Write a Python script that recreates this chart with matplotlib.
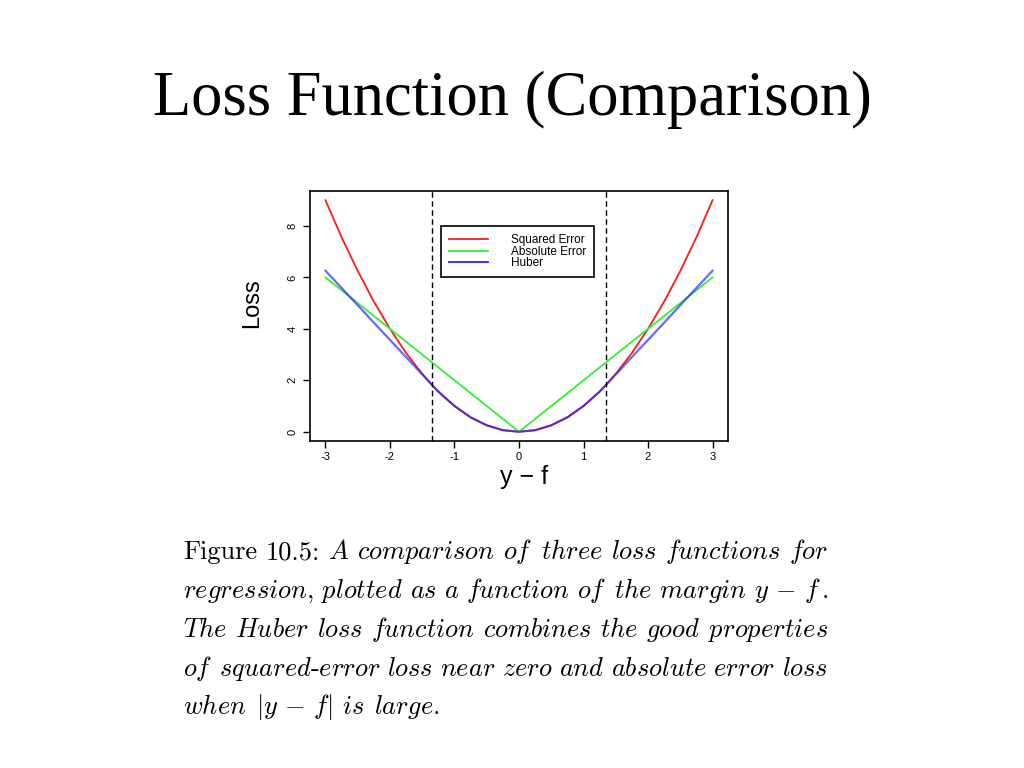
import matplotlib
matplotlib.use("Agg")
import matplotlib.pyplot as plt

# ---------------- data ----------------
margin = [-3.0, -2.75, -2.5, -2.25, -2.0, -1.75, -1.5, -1.345, -1.25, -1.0, -0.75, -0.5, -0.25, 0.0,
          0.25, 0.5, 0.75, 1.0, 1.25, 1.345, 1.5, 1.75, 2.0, 2.25, 2.5, 2.75, 3.0]
squared_error = [9.0, 7.56, 6.25, 5.06, 4.0, 3.06, 2.25, 1.81, 1.56, 1.0, 0.56, 0.25, 0.06, 0.0,
                 0.06, 0.25, 0.56, 1.0, 1.56, 1.81, 2.25, 3.06, 4.0, 5.06, 6.25, 7.56, 9.0]
absolute_error = [6.0, 5.5, 5.0, 4.5, 4.0, 3.5, 3.0, 2.69, 2.5, 2.0, 1.5, 1.0, 0.5, 0.0,
                  0.5, 1.0, 1.5, 2.0, 2.5, 2.69, 3.0, 3.5, 4.0, 4.5, 5.0, 5.5, 6.0]
huber = [6.26, 5.59, 4.92, 4.24, 3.57, 2.9, 2.23, 1.81, 1.56, 1.0, 0.56, 0.25, 0.06, 0.0,
         0.06, 0.25, 0.56, 1.0, 1.56, 1.81, 2.23, 2.9, 3.57, 4.24, 4.92, 5.59, 6.26]
cutoffs = [-1.345, 1.345]
series_labels = ["Squared Error", "Absolute Error", "Huber"]
x_ticks = [-3, -2, -1, 0, 1, 2, 3]
y_ticks = [0, 2, 4, 6, 8]

title_text = "Loss Function (Comparison)"
caption_lines = [
    [("Figure", "rm"), ("10.5:", "rm"), ("A", "it"), ("comparison", "it"), ("of", "it"), ("three", "it"),
     ("loss", "it"), ("functions", "it"), ("for", "it")],
    [("regression,", "it"), ("plotted", "it"), ("as", "it"), ("a", "it"), ("function", "it"), ("of", "it"),
     ("the", "it"), ("margin", "it"), (r"y\,-\,f\,.", "math")],
    [("The", "it"), ("Huber", "it"), ("loss", "it"), ("function", "it"), ("combines", "it"), ("the", "it"),
     ("good", "it"), ("properties", "it")],
    [("of", "it"), ("squared-error", "hy"), ("loss", "it"), ("near", "it"), ("zero", "it"), ("and", "it"),
     ("absolute", "it"), ("error", "it"), ("loss", "it")],
    [("when", "it"), (r"|y\,-\,f|", "math"), ("is", "it"), ("large.", "it")],
]

# ---------------- figure ----------------
plt.rcParams["mathtext.fontset"] = "cm"
W, H = 1024, 768
fig = plt.figure(figsize=(W / 100, H / 100), dpi=100)
fig.patch.set_facecolor("white")

fig.text(512 / W, 1 - 115 / H, title_text, ha="center", va="baseline",
         family="Liberation Serif", fontsize=45)

ax = fig.add_axes([310 / W, 1 - 441 / H, 418 / W, 250 / H])
sans = "Liberation Sans"
ax.plot(margin, squared_error, color="#FF1A1A", lw=1.3, label=series_labels[0])
ax.plot(margin, absolute_error, color="#33F033", lw=1.3, label=series_labels[1])
ax.plot(margin, huber, color="#2424FF", lw=1.6, alpha=0.68, label=series_labels[2])
for c in cutoffs:
    ax.axvline(c, color="black", lw=1.0, ls=(0, (4, 2.5)))

ax.set_xlim(-3.24, 3.24)
ax.set_ylim(-0.36, 9.36)
ax.set_xticks(x_ticks)
ax.set_yticks(y_ticks)
ax.set_xticklabels([str(t) for t in x_ticks], family=sans, fontsize=8)
ax.set_yticklabels([str(t) for t in y_ticks], family=sans, fontsize=8, rotation=90, va="center")
ax.tick_params(direction="out", length=5, width=1, pad=3)
ax.tick_params(axis="y", pad=4)
for s in ax.spines.values():
    s.set_linewidth(1.2)

leg = ax.legend(loc="upper left", bbox_to_anchor=((441 - 310) / 418, (441 - 226) / 250),
                borderaxespad=0, prop={"family": sans, "size": 8.5}, handlelength=3.3,
                handletextpad=1.9, labelspacing=-0.05, borderpad=0.7, fancybox=False,
                framealpha=1, edgecolor="black")
leg.get_frame().set_linewidth(1.2)
for h in leg.get_lines():
    h.set_alpha(1)
    h.set_linewidth(1.3)

fig.text(252 / W, 1 - 303 / H, "Loss", rotation=90, ha="center", va="center", family=sans, fontsize=17)
fig.text(524 / W, 1 - 484 / H, "y \u2212 f", ha="center", va="baseline", family=sans, fontsize=18)

# ---------------- caption (justified) ----------------
renderer = fig.canvas.get_renderer()
cap_size = 19
left_px, right_px = 183, 828
baselines = [559, 598, 637, 676, 714]


def make_token(word, kind):
    if kind == "rm":
        s = word
    elif kind == "it":
        s = r"$\mathit{" + word + "}$"
    elif kind == "math":
        s = "$" + word + "$"
    else:  # hyphenated italic
        a, b = word.split("-")
        s = r"$\mathit{" + a + r"}$-$\mathit{" + b + "}$"
    return fig.text(0, 0, s, family="cmr10", fontsize=cap_size, ha="left", va="baseline")


for li, line in enumerate(caption_lines):
    toks = [make_token(w, k) for w, k in line]
    widths = [t.get_window_extent(renderer).width for t in toks]
    if li < len(caption_lines) - 1:
        gap = (right_px - left_px - sum(widths)) / (len(toks) - 1)
    else:
        gap = 0.36 * cap_size * 100 / 72
    x = left_px
    for t, w in zip(toks, widths):
        t.set_position((x / W, 1 - baselines[li] / H))
        x += w + gap

fig.savefig("out.png", dpi=100)
